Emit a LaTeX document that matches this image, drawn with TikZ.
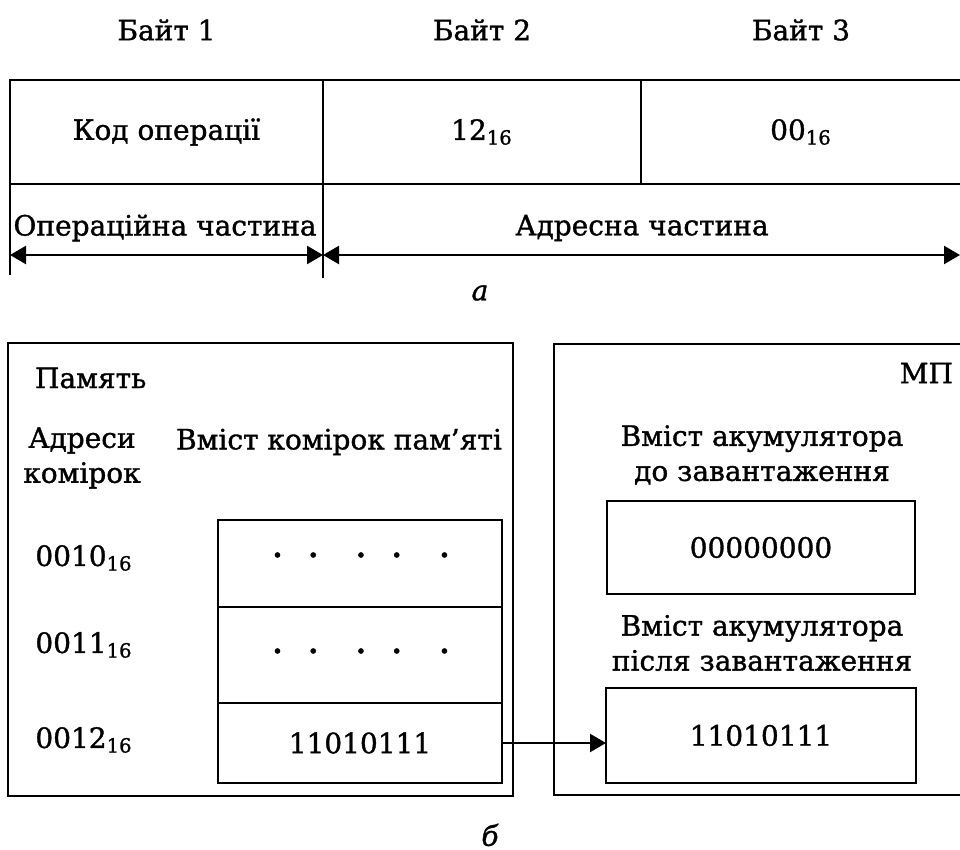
\documentclass[tikz,border=0pt]{standalone}
\usepackage{fontspec}
\setmainfont{DejaVu Serif}[FakeBold=1.2]
\usetikzlibrary{arrows.meta, positioning, calc, fit}
\newcommand{\sub}[1]{\textsubscript{#1}}
\newcommand{\dotrow}{\textbf{.}\hspace{13pt}\textbf{.}\hspace{19pt}\textbf{.}\hspace{13pt}\textbf{.}\hspace{19pt}\textbf{.}}
\tikzset{
  >={Triangle[length=8pt, width=9pt]},
  frame/.style={draw, line width=1.4pt, inner sep=0pt, outer sep=0pt},
  cell/.style={draw, line width=1.4pt, inner sep=0pt, outer sep=0pt},
  dimline/.style={<->, line width=1.2pt},
  flowarrow/.style={->, line width=1.2pt},
  label/.style={align=center}
}
\begin{document}
\begin{tikzpicture}[x=0.5pt, y=-0.5pt, every node/.style={font=\fontsize{14}{17.5}\selectfont}]
    \useasboundingbox (0,0) rectangle (960,850);

    % a: command format
    \node (op) [cell, fit={(10,80) (323,184)}] {};
    \node (b2) [cell, fit={(323,80) (641,184)}] {};
    \node (b3) [cell, fit={(641,80) (964,184)}] {};
    \node (opt) at (op.center) {Код операції};
    \node (b2t) at (b2.center) {12\sub{16}};
    \node (b3t) at (801,132) {00\sub{16}};

    \node (h1) at (op.north |- 0,30) {Байт 1};
    \node (h2) at (b2.north |- 0,30) {Байт 2};
    \node (h3) at (801,30) {Байт 3};

    \draw[line width=1.4pt] (op.south west) -- ++(0,91);
    \draw[line width=1.4pt] (op.south east) -- ++(0,94);

    \coordinate (dl) at (10,255);
    \coordinate (dm) at (323,255);
    \coordinate (dr) at (960,255);
    \draw[dimline] (dl) -- (dm);
    \draw[dimline] (dm) -- (dr);

    \node (opl) at (165,228) {Операційна частина};
    \node (adl) at (642,228) {Адресна частина};
    \node (ta) at (480,293) {\itshape а};

    % b: memory and microprocessor
    \node (mem) [frame, fit={(8,343) (513,796)}] {};
    \node (mp) [frame, fit={(554,344) (964,795)}] {};

    \node (memt) [anchor=west] at (28,378) {Память};
    \node (mpt) [anchor=east] at (960,373) {МП};
    \node (adr) [label] at (82,458) {Адреси\\комірок};
    \node (vm) at (339,442) {Вміст комірок пам’яті};

    \node (c1) [cell, fit={(218,520) (502,607)}] {};
    \node (c2) [cell, fit={(218,607) (502,703)}] {};
    \node (c3) [cell, fit={(218,703) (502,783)}] {};
    \node (c1t) at (361,555) {\dotrow};
    \node (c2t) at (361,651) {\dotrow};
    \node (c3t) at (c3.center) {11010111};

    \node (a1) at (84,558) {0010\sub{16}};
    \node (a2) at (84,645) {0011\sub{16}};
    \node (a3) at (84,740) {0012\sub{16}};

    \node (acct1) [label] at (762,455) {Вміст акумулятора\\до завантаження};
    \node (acc1) [cell, fit={(607,501) (915,594)}] {};
    \node (acc1t) at (acc1.center) {00000000};
    \node (acct2) [label] at (762,643) {Вміст акумулятора\\після завантаження};
    \node (acc2) [cell, fit={(606,688) (916,783)}] {};
    \node (acc2t) at (acc2.center) {11010111};

    \draw[flowarrow] (c3.east) -- (c3.east -| acc2.west);

    \node (tb) at (490,835) {\itshape б};
\end{tikzpicture}
\end{document}
